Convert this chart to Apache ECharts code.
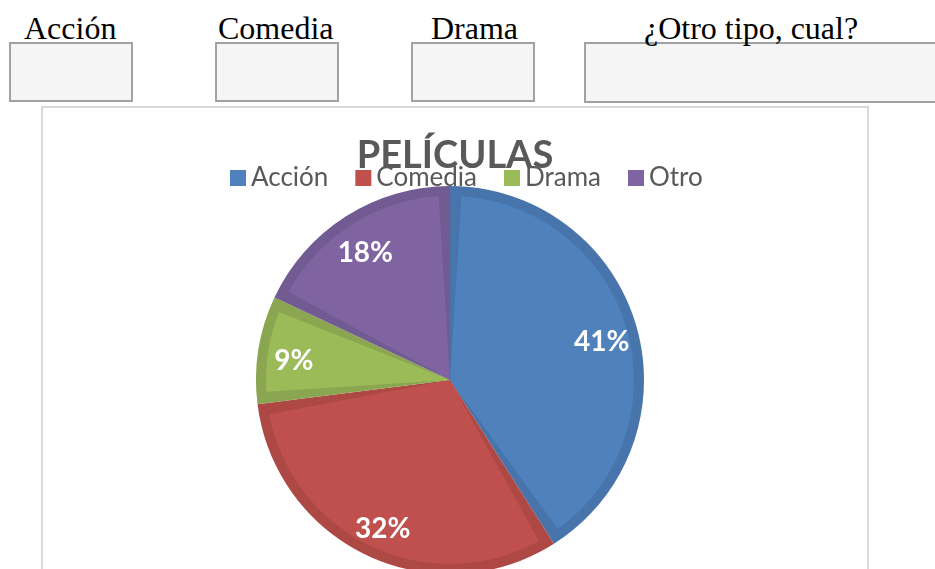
<!DOCTYPE html>
<html>
<head>
<meta charset="utf-8">
<script src="https://cdn.jsdelivr.net/npm/echarts@6/dist/echarts.min.js"></script>
<style>
  html, body { margin: 0; padding: 0; background: #fff; overflow: hidden; }
  body { width: 935px; height: 569px; position: relative; }
  .lbl { position: absolute; top: 12px; font-family: "Liberation Serif", serif; font-size: 32px; line-height: 32px; color: #000; z-index: 2; white-space: nowrap; }
  .box { position: absolute; top: 42px; height: 60px; background: #f5f5f5; border: 2px solid #a2a2a4; box-sizing: border-box; z-index: 1; }
  #main { position: absolute; left: 41px; top: 106px; width: 828px; height: 490px; border: 2px solid #d9d9d9; box-sizing: border-box; background: #fff; }
</style>
</head>
<body>
<div class="lbl" style="left:24px">Acción</div>
<div class="lbl" style="left:218px">Comedia</div>
<div class="lbl" style="left:431px">Drama</div>
<div class="lbl" style="left:644px">¿Otro tipo, cual?</div>
<div class="box" style="left:9px;width:124px"></div>
<div class="box" style="left:215px;width:124px"></div>
<div class="box" style="left:411px;width:124px"></div>
<div class="box" style="left:584px;width:400px;height:61px"></div>
<div id="main"></div>
<script>
var categories = ['Acción', 'Comedia', 'Drama', 'Otro'];
var values = [41, 32, 9, 18];
var fillColors = ['#4f81bd', '#c0504d', '#9bbb59', '#8064a2'];
var bandColors = ['#4674ab', '#ad4845', '#8ba650', '#725a92'];

var myChart = echarts.init(document.getElementById('main'));

function makeData(colors) {
  return categories.map(function (name, i) {
    return { name: name, value: values[i], itemStyle: { color: colors[i] } };
  });
}

var option = {
  animation: false,
  title: {
    text: 'PELÍCULAS',
    left: 'center',
    top: 24,
    textStyle: {
      fontFamily: 'Lato',
      fontSize: 38,
      fontWeight: 'bold',
      color: '#595959'
    }
  },
  legend: {
    data: categories,
    top: 52,
    left: 182,
    icon: 'rect',
    itemWidth: 16,
    itemHeight: 16,
    itemGap: 27,
    selectedMode: false,
    textStyle: {
      fontFamily: 'Lato',
      fontSize: 26,
      color: '#595959'
    }
  },
  series: [
    {
      name: 'fill',
      type: 'pie',
      center: [407, 272],
      radius: [0, 184],
      padAngle: 7,
      z: 3,
      silent: true,
      label: { show: false },
      labelLine: { show: false },
      data: makeData(fillColors)
    },
    {
      name: 'band',
      type: 'pie',
      center: [407, 272],
      radius: [0, 194],
      z: 2,
      silent: true,
      label: { show: false },
      labelLine: { show: false },
      data: makeData(bandColors)
    },
    {
      name: 'labels',
      type: 'pie',
      center: [407, 272],
      radius: [116, 194],
      z: 4,
      silent: true,
      itemStyle: { color: 'rgba(0,0,0,0)' },
      label: {
        show: true,
        position: 'inside',
        fontFamily: 'Lato',
        fontSize: 28,
        fontWeight: 'bold',
        color: '#fff',
        formatter: function (p) {
          return p.percent.toFixed(0) + '%';
        }
      },
      labelLayout: { dy: 6 },
      labelLine: { show: false },
      data: categories.map(function (name, i) {
        return { name: name, value: values[i] };
      })
    }
  ]
};

myChart.setOption(option);
</script>
</body>
</html>
